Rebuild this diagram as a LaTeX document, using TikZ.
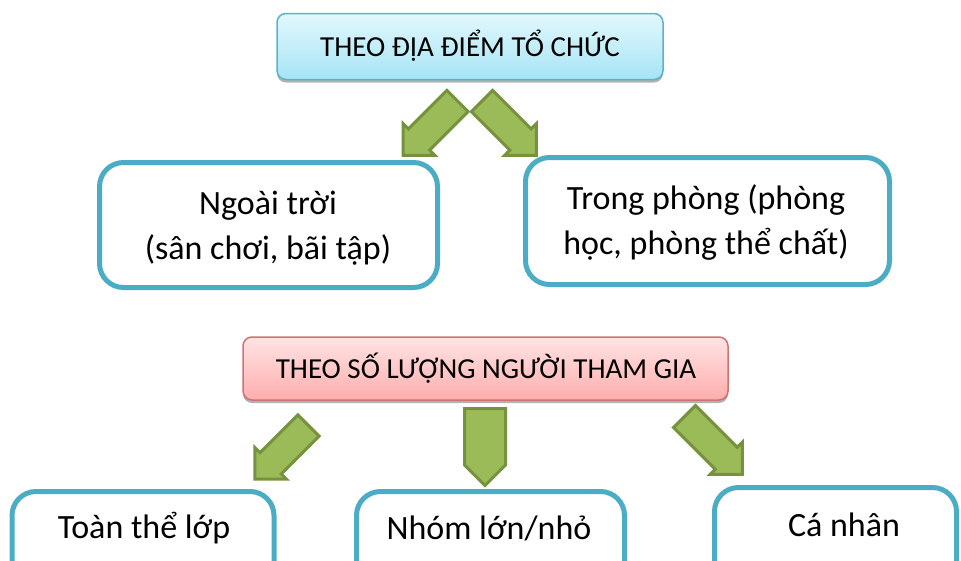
\documentclass[tikz,border=0pt]{standalone}
\usepackage{fontspec}
\setmainfont{Carlito}
\usetikzlibrary{shadows}
\definecolor{tealb}{HTML}{4BACC6}
\definecolor{gfill}{HTML}{9BBB59}
\definecolor{gline}{HTML}{76923C}
\definecolor{cyantop}{HTML}{E2F8FC}
\definecolor{cyanbot}{HTML}{A6E4F5}
\definecolor{cyanline}{HTML}{5AB4C9}
\definecolor{pinktop}{HTML}{FFE4E4}
\definecolor{pinkbot}{HTML}{FFADAD}
\definecolor{pinkline}{HTML}{C0504D}
\newcommand\garr[6]{%
  \draw[garrow, shift={(#1,#2)}, rotate=#3]
    (0,-#5) -- ({#4-#6},-#5) -- ({#4-#6},-#6) -- (#4,0) -- ({#4-#6},#6) -- ({#4-#6},#5) -- (0,#5) -- cycle;}
\begin{document}
\begin{tikzpicture}[x=1pt,y=-1pt,
  whitebox/.style={draw=tealb, line width=5pt, rounded corners=24pt, fill=white, inner sep=0pt},
  bodytext/.style={font=\fontsize{34}{45}\selectfont, align=center, inner sep=0pt},
  headtext/.style={font=\fontsize{29}{35}\selectfont, inner sep=0pt},
  cyanbox/.style={draw=cyanline, line width=1.5pt, rounded corners=9pt, top color=cyantop, bottom color=cyanbot,
    drop shadow={shadow xshift=0pt, shadow yshift=-3pt, fill=black, opacity=0.3}},
  pinkbox/.style={draw=pinkline!80, line width=1.5pt, rounded corners=9pt, top color=pinktop, bottom color=pinkbot,
    drop shadow={shadow xshift=0pt, shadow yshift=-3pt, fill=black, opacity=0.3}},
  garrow/.style={draw=gline, fill=gfill, line width=3pt, line join=miter}]
\path[use as bounding box] (0,0) rectangle (961,560);
\clip (0,0) rectangle (961,560);

% headings
\node[cyanbox, minimum width=386pt, minimum height=66pt] (h1) at (470,46.5) {};
\node[headtext] (h1t) at (470,46) {THEO ĐỊA ĐIỂM TỔ CHỨC};
\node[pinkbox, minimum width=485pt, minimum height=63pt] (h2) at (485.5,368.5) {};
\node[headtext] (h2t) at (486,368) {THEO SỐ LƯỢNG NGƯỜI THAM GIA};

% first level boxes
\node[whitebox, minimum width=338pt, minimum height=125pt] (a1) at (268.5,225) {};
\node[bodytext] (a1t) at (268,228) {Ngoài trời\\(sân chơi, bãi tập)};
\node[whitebox, minimum width=364pt, minimum height=127pt] (a2) at (707.5,221) {};
\node[bodytext] (a2t) at (706,222) {Trong phòng (phòng\\học, phòng thể chất)};

% second level boxes
\node[whitebox, minimum width=262pt, minimum height=140pt] (b1) at (143,561.5) {};
\node[bodytext] (b1t) at (144,528) {Toàn thể lớp};
\node[whitebox, minimum width=268pt, minimum height=140pt] (b2) at (490.5,561.5) {};
\node[bodytext] (b2t) at (489,528) {Nhóm lớn/nhỏ};
\node[whitebox, minimum width=242pt, minimum height=140pt] (b3) at (835.5,557.5) {};
\node[bodytext] (b3t) at (844,525) {Cá nhân};

% arrows
\garr{457.5}{101}{225}{77}{15}{22.5}
\garr{482}{101}{315}{77}{15}{22.5}
\garr{308.5}{425.5}{225}{76}{15}{22.5}
\garr{684.5}{416.5}{315}{82}{15.5}{23}
\garr{485}{408.5}{270}{77}{20.5}{20.5}
\end{tikzpicture}
\end{document}
